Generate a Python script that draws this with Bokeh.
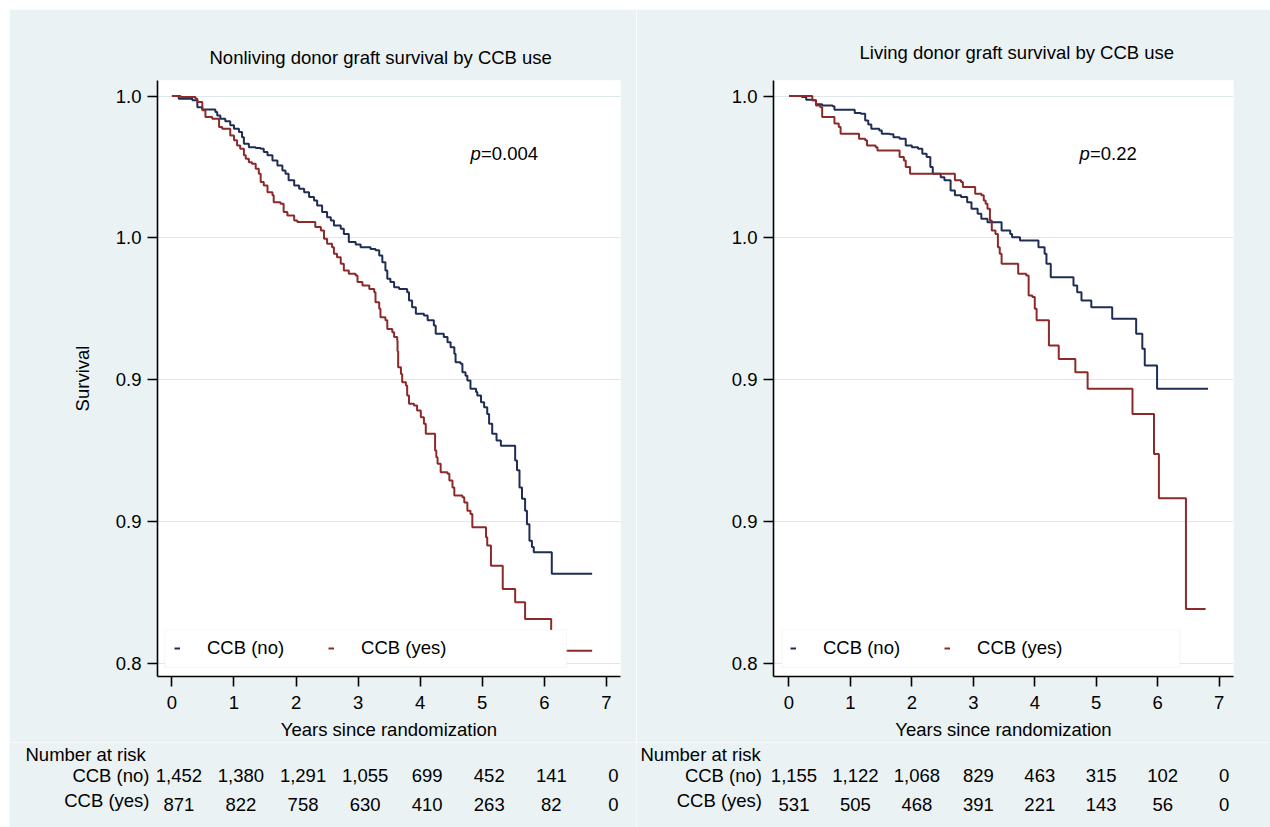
from bokeh.plotting import figure
from bokeh.models import Range1d, FixedTicker, Legend, LegendItem, BoxAnnotation, Label
from bokeh.layouts import row, column
from bokeh.embed import file_html
from bokeh.resources import INLINE
from bokeh.core.properties import value

# ---------------- data ----------------
# Nonliving donor, CCB (no): step times (years) and survival after each step; last = end of follow-up
nl_no_t = [0.00, 0.11, 0.33, 0.41, 0.49, 0.70, 0.73, 0.78, 0.86, 0.94, 1.00, 1.08, 1.13, 1.16,
           1.24, 1.35, 1.43, 1.48, 1.54, 1.62, 1.70, 1.78, 1.83, 1.88, 1.97, 2.05, 2.13, 2.21,
           2.29, 2.34, 2.42, 2.50, 2.56, 2.61, 2.72, 2.77, 2.85, 2.96, 3.04, 3.20, 3.28, 3.34,
           3.39, 3.44, 3.47, 3.52, 3.58, 3.66, 3.79, 3.82, 3.87, 3.93, 4.06, 4.12, 4.22, 4.25,
           4.38, 4.44, 4.49, 4.55, 4.57, 4.65, 4.68, 4.73, 4.76, 4.81, 4.90, 4.92, 4.98, 5.03,
           5.08, 5.11, 5.16, 5.23, 5.30, 5.53, 5.56, 5.60, 5.64, 5.69, 5.72, 5.76, 5.80, 5.83,
           6.12, 6.77]
nl_no_s = [1.0000, 0.9991, 0.9985, 0.9961, 0.9953, 0.9944, 0.9932, 0.9920, 0.9911, 0.9897,
           0.9885, 0.9873, 0.9855, 0.9832, 0.9820, 0.9817, 0.9814, 0.9803, 0.9791, 0.9773,
           0.9755, 0.9738, 0.9726, 0.9703, 0.9685, 0.9673, 0.9661, 0.9644, 0.9632, 0.9614,
           0.9591, 0.9573, 0.9561, 0.9544, 0.9532, 0.9514, 0.9485, 0.9477, 0.9467, 0.9461,
           0.9456, 0.9438, 0.9414, 0.9385, 0.9356, 0.9344, 0.9326, 0.9320, 0.9308, 0.9279,
           0.9255, 0.9232, 0.9226, 0.9209, 0.9191, 0.9162, 0.9150, 0.9132, 0.9114, 0.9091,
           0.9061, 0.9056, 0.9026, 0.9014, 0.8997, 0.8968, 0.8956, 0.8944, 0.8920, 0.8903,
           0.8879, 0.8844, 0.8809, 0.8785, 0.8767, 0.8715, 0.8680, 0.8620, 0.8580, 0.8538,
           0.8490, 0.8432, 0.8410, 0.8391, 0.8315, 0.8315]

# Nonliving donor, CCB (yes)
nl_yes_t = [0.00, 0.14, 0.38, 0.41, 0.49, 0.54, 0.65, 0.76, 0.81, 0.94, 1.00, 1.05, 1.10, 1.16,
            1.19, 1.24, 1.29, 1.35, 1.40, 1.43, 1.48, 1.54, 1.62, 1.64, 1.75, 1.80, 1.86, 1.97,
            2.02, 2.31, 2.40, 2.45, 2.50, 2.58, 2.61, 2.66, 2.72, 2.77, 2.85, 2.96, 2.99, 3.07,
            3.18, 3.26, 3.28, 3.34, 3.36, 3.44, 3.47, 3.55, 3.58, 3.63, 3.635, 3.645, 3.69, 3.71,
            3.77, 3.79, 3.82, 3.90, 3.95, 4.01, 4.06, 4.09, 4.24, 4.26, 4.28, 4.33, 4.44, 4.47,
            4.52, 4.55, 4.68, 4.71, 4.76, 4.81, 4.84, 5.06, 5.08, 5.14, 5.33, 5.53, 5.69, 6.11,
            6.77]
nl_yes_s = [1.0000, 0.9997, 0.9991, 0.9979, 0.9950, 0.9926, 0.9920, 0.9891, 0.9885, 0.9861,
            0.9844, 0.9826, 0.9814, 0.9791, 0.9779, 0.9767, 0.9761, 0.9744, 0.9726, 0.9697,
            0.9685, 0.9661, 0.9650, 0.9626, 0.9620, 0.9591, 0.9579, 0.9561, 0.9556, 0.9538,
            0.9526, 0.9497, 0.9479, 0.9467, 0.9444, 0.9432, 0.9409, 0.9385, 0.9373, 0.9367,
            0.9344, 0.9332, 0.9320, 0.9308, 0.9273, 0.9250, 0.9220, 0.9209, 0.9179, 0.9167,
            0.9150, 0.9138, 0.9100, 0.9044, 0.9020, 0.8991, 0.8979, 0.8944, 0.8915, 0.8909,
            0.8891, 0.8867, 0.8844, 0.8809, 0.8750, 0.8726, 0.8703, 0.8673, 0.8668, 0.8644,
            0.8620, 0.8591, 0.8585, 0.8567, 0.8538, 0.8526, 0.8479, 0.8444, 0.8415, 0.8344,
            0.8262, 0.8215, 0.8156, 0.8044, 0.8044]

# Living donor, CCB (no)
lv_no_t = [0.00, 0.21, 0.28, 0.38, 0.44, 0.54, 0.71, 0.74, 1.07, 1.17, 1.24, 1.29, 1.34, 1.47,
           1.51, 1.64, 1.70, 1.80, 1.90, 2.00, 2.10, 2.17, 2.24, 2.30, 2.34, 2.47, 2.53, 2.63,
           2.70, 2.80, 2.90, 2.97, 3.07, 3.13, 3.23, 3.46, 3.60, 3.63, 3.76, 4.06, 4.16, 4.19,
           4.26, 4.63, 4.69, 4.76, 4.92, 5.26, 5.65, 5.75, 5.79, 5.99, 6.82]
lv_no_s = [1.0000, 0.9997, 0.9987, 0.9985, 0.9971, 0.9967, 0.9964, 0.9952, 0.9940, 0.9938,
           0.9914, 0.9900, 0.9885, 0.9879, 0.9867, 0.9865, 0.9855, 0.9850, 0.9826, 0.9820,
           0.9814, 0.9797, 0.9785, 0.9750, 0.9726, 0.9714, 0.9703, 0.9667, 0.9650, 0.9644,
           0.9626, 0.9603, 0.9585, 0.9567, 0.9555, 0.9526, 0.9514, 0.9502, 0.9491, 0.9467,
           0.9444, 0.9409, 0.9361, 0.9332, 0.9308, 0.9279, 0.9255, 0.9215, 0.9162, 0.9109,
           0.9050, 0.8968, 0.8968]

# Living donor, CCB (yes)
lv_yes_t = [0.00, 0.38, 0.44, 0.51, 0.54, 0.74, 0.81, 0.84, 1.14, 1.24, 1.27, 1.41, 1.44, 1.80,
            1.87, 1.90, 1.97, 2.70, 2.80, 2.83, 3.03, 3.13, 3.17, 3.20, 3.23, 3.27, 3.30, 3.36,
            3.40, 3.43, 3.46, 3.73, 3.86, 3.90, 3.96, 4.00, 4.03, 4.23, 4.39, 4.66, 4.86, 5.59,
            5.94, 6.02, 6.46, 6.78]
lv_yes_s = [1.0000, 0.9985, 0.9967, 0.9961, 0.9926, 0.9903, 0.9891, 0.9867, 0.9850, 0.9844,
            0.9826, 0.9820, 0.9808, 0.9785, 0.9773, 0.9750, 0.9726, 0.9703, 0.9697, 0.9679,
            0.9656, 0.9650, 0.9632, 0.9620, 0.9603, 0.9561, 0.9526, 0.9514, 0.9467, 0.9444,
            0.9409, 0.9373, 0.9367, 0.9297, 0.9291, 0.9250, 0.9209, 0.9120, 0.9073, 0.9026,
            0.8968, 0.8879, 0.8738, 0.8582, 0.8191, 0.8191]

# Number at risk
risk_years = [0, 1, 2, 3, 4, 5, 6, 7]
nl_risk_no = [1452, 1380, 1291, 1055, 699, 452, 141, 0]
nl_risk_yes = [871, 822, 758, 630, 410, 263, 82, 0]
lv_risk_no = [1155, 1122, 1068, 829, 463, 315, 102, 0]
lv_risk_yes = [531, 505, 468, 391, 221, 143, 56, 0]

# Axis ticks (labels as printed in the original)
x_ticks = [0, 1, 2, 3, 4, 5, 6, 7]
y_ticks = [0.80, 0.85, 0.90, 0.95, 1.00]
y_tick_labels = ["0.8", "0.9", "0.9", "1.0", "1.0"]

group_labels = ["CCB (no)", "CCB (yes)"]
titles = ["Nonliving donor graft survival by CCB use", "Living donor graft survival by CCB use"]
p_values = ["=0.004", "=0.22"]

# ---------------- style ----------------
FONT = "Liberation Sans"
FS = "18.5px"
BG = "#eaf2f3"
GRID = "#dde8eb"
BLUE = "#1f2d55"
RED = "#8c2a2a"
INK = "#000000"
MAIN_H = 733
TABLE_H = 85
Y_RANGE = (0.7953, 1.0055)


def panel(title, t_off, t_stand, t_no, s_no, t_yes, s_yes, pval, xr, W, bl, br, p_x, ylabel):
    p = figure(width=W, height=MAIN_H, x_range=Range1d(*xr), y_range=Range1d(*Y_RANGE),
               output_backend="svg", toolbar_location=None,
               min_border_left=bl, min_border_right=br, min_border_top=71, min_border_bottom=66,
               background_fill_color="white", border_fill_color=BG, outline_line_color=None)
    p.title.text = title
    p.title.align = "left"
    p.title.offset = t_off
    p.title.standoff = t_stand
    p.title.text_font = FONT
    p.title.text_font_size = FS
    p.title.text_font_style = "normal"
    p.title.text_color = INK

    r1 = p.step(t_no, s_no, mode="after", line_color=BLUE, line_width=2)
    r2 = p.step(t_yes, s_yes, mode="after", line_color=RED, line_width=2)

    p.xaxis.ticker = FixedTicker(ticks=x_ticks)
    p.yaxis.ticker = FixedTicker(ticks=y_ticks)
    p.yaxis.major_label_overrides = dict(zip(y_ticks, y_tick_labels))
    p.xaxis.axis_label = "Years since randomization"
    if ylabel:
        p.yaxis.axis_label = ylabel
    for ax in p.axis:
        ax.axis_line_color = INK
        ax.axis_line_width = 1.6
        ax.major_tick_line_color = INK
        ax.major_tick_line_width = 1.6
        ax.major_tick_out = 10
        ax.major_tick_in = 0
        ax.minor_tick_line_color = None
        ax.major_label_text_font = FONT
        ax.major_label_text_font_size = FS
        ax.major_label_text_color = INK
        ax.axis_label_text_font = FONT
        ax.axis_label_text_font_size = FS
        ax.axis_label_text_font_style = "normal"
        ax.axis_label_text_color = INK
    p.xaxis.major_label_standoff = 9
    p.yaxis.major_label_standoff = 6
    p.xaxis.axis_label_standoff = 7
    p.yaxis.axis_label_standoff = 20
    p.xgrid.visible = False
    p.ygrid.grid_line_color = GRID
    p.ygrid.grid_line_width = 1.2

    # legend box and legend
    p.add_layout(BoxAnnotation(left=-0.115, right=6.36, bottom=0.7985, top=0.8117,
                               fill_color="white", fill_alpha=1.0,
                               line_color="#d9e4e8", line_width=1.2))
    leg = Legend(items=[LegendItem(label=group_labels[0], renderers=[r1]),
                        LegendItem(label=group_labels[1], renderers=[r2])],
                 orientation="horizontal", location=(12, 12), margin=0, padding=5,
                 glyph_width=6, glyph_height=20, label_standoff=27, spacing=44,
                 background_fill_alpha=0.0, border_line_alpha=0.0,
                 label_text_font=FONT, label_text_font_size=FS, label_text_color=INK)
    p.add_layout(leg, "center")

    # p-value
    p.add_layout(Label(x=p_x, y=523, x_units="screen", y_units="screen", text="p",
                       text_font=FONT, text_font_size=FS, text_font_style="italic",
                       text_align="left", text_baseline="middle", text_color=INK))
    p.add_layout(Label(x=p_x + 10.3, y=523, x_units="screen", y_units="screen", text=pval,
                       text_font=FONT, text_font_size=FS, text_align="left",
                       text_baseline="middle", text_color=INK))
    return p


def table(xr, W, bl, br, r_no, r_yes, risk_dx, lab_dx, nar_dx):
    # x range matched to the survival panel above, extended over its borders
    scale = (xr[1] - xr[0]) / (W - bl - br)
    tr = (xr[0] - bl * scale, xr[1] + br * scale)
    t = figure(width=W, height=TABLE_H, x_range=Range1d(*tr), y_range=Range1d(3.128, -0.384),
               output_backend="svg", toolbar_location=None, min_border=0,
               x_axis_type=None, y_axis_type=None,
               background_fill_color=BG, border_fill_color=BG, outline_line_color=None)
    common = dict(text_font=value(FONT), text_font_size=value(FS), text_color=INK,
                  text_baseline="middle")
    t.text(x=[xr[0]], y=[0], text=["Number at risk"], x_offset=nar_dx, y_offset=2.5,
           text_align="left", **common)
    t.text(x=[xr[0], xr[0]], y=[1, 2], text=group_labels, x_offset=lab_dx, text_align="right",
           **common)
    t.text(x=risk_years, y=[1] * len(risk_years), text=[f"{v:,}" for v in r_no],
           x_offset=risk_dx, text_align="center", **common)
    t.text(x=risk_years, y=[2] * len(risk_years), text=[f"{v:,}" for v in r_yes],
           x_offset=risk_dx, y_offset=4, text_align="center", **common)
    return t


XR1 = (-0.232, 7.227)
XR2 = (-0.252, 7.234)
W1, BL1, BR1 = 627, 148, 16
W2, BL2, BR2 = 634, 137, 37

p1 = panel(titles[0], 52, 26, nl_no_t, nl_no_s, nl_yes_t, nl_yes_s, p_values[0], XR1,
           W1, BL1, BR1, 313.1, "Survival")
p2 = panel(titles[1], 86, 35, lv_no_t, lv_no_s, lv_yes_t, lv_yes_s, p_values[1], XR2,
           W2, BL2, BR2, 306.1, None)
t1 = table(XR1, W1, BL1, BR1, nl_risk_no, nl_risk_yes, 7, -8, -132)
t2 = table(XR2, W2, BL2, BR2, lv_risk_no, lv_risk_yes, 5, -11.5, -133)

layout = column(row(p1, p2), row(t1, t2), margin=(9, 0, 0, 9))
open("out.html", "w").write(file_html(layout, INLINE))
